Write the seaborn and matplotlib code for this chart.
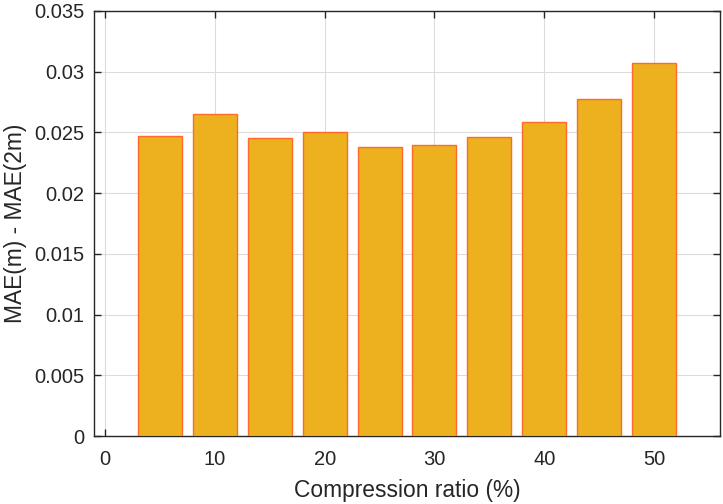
import matplotlib
matplotlib.use('Agg')
import matplotlib.pyplot as plt
import seaborn as sns

# Data
ratios = [5, 10, 15, 20, 25, 30, 35, 40, 45, 50]
mae_diff = [0.02467, 0.02648, 0.02453, 0.02500, 0.02380,
            0.02393, 0.02459, 0.02582, 0.02779, 0.03074]
x_ticks = [0, 10, 20, 30, 40, 50]
y_ticks = [0, 0.005, 0.01, 0.015, 0.02, 0.025, 0.03, 0.035]
y_tick_labels = ['0', '0.005', '0.01', '0.015', '0.02', '0.025', '0.03', '0.035']


def main():
    sns.set_style('white')
    plt.rcParams['font.family'] = ['Liberation Sans', 'DejaVu Sans']

    fig = plt.figure(figsize=(7.23, 5.04), dpi=100)
    ax = fig.add_axes([94 / 723, 1 - 436 / 504, (720 - 94) / 723, (436 - 11) / 504])

    sns.barplot(x=ratios, y=mae_diff, native_scale=True, width=0.8,
                color='#EDB120', saturation=1, edgecolor='#FF6A2A',
                linewidth=1.0, errorbar=None, ax=ax, zorder=3)

    ax.set_xlim(-1, 56)
    ax.set_ylim(0, 0.035)
    ax.set_xticks(x_ticks)
    ax.set_xticklabels([str(t) for t in x_ticks])
    ax.set_yticks(y_ticks)
    ax.set_yticklabels(y_tick_labels)

    ax.grid(True, color='#DCDCDC', linewidth=0.8, zorder=0)
    ax.set_axisbelow(True)
    ax.tick_params(direction='in', length=5, width=1, colors='#262626',
                   labelsize=14.5, top=True, right=True, bottom=True, left=True)
    ax.tick_params(axis='x', pad=10)
    ax.tick_params(axis='y', pad=7)
    for t in ax.get_xticklabels() + ax.get_yticklabels():
        t.set_color('#262626')
    for spine in ax.spines.values():
        spine.set_visible(True)
        spine.set_color('#262626')
        spine.set_linewidth(1.0)

    ax.set_xlabel('Compression ratio (%)', fontsize=16.4, color='#262626', labelpad=7)
    ax.set_ylabel('MAE(m) - MAE(2m)', fontsize=16.4, color='#262626', labelpad=5)

    plt.savefig('out.png', dpi=100)
    plt.close()


if __name__ == '__main__':
    main()
